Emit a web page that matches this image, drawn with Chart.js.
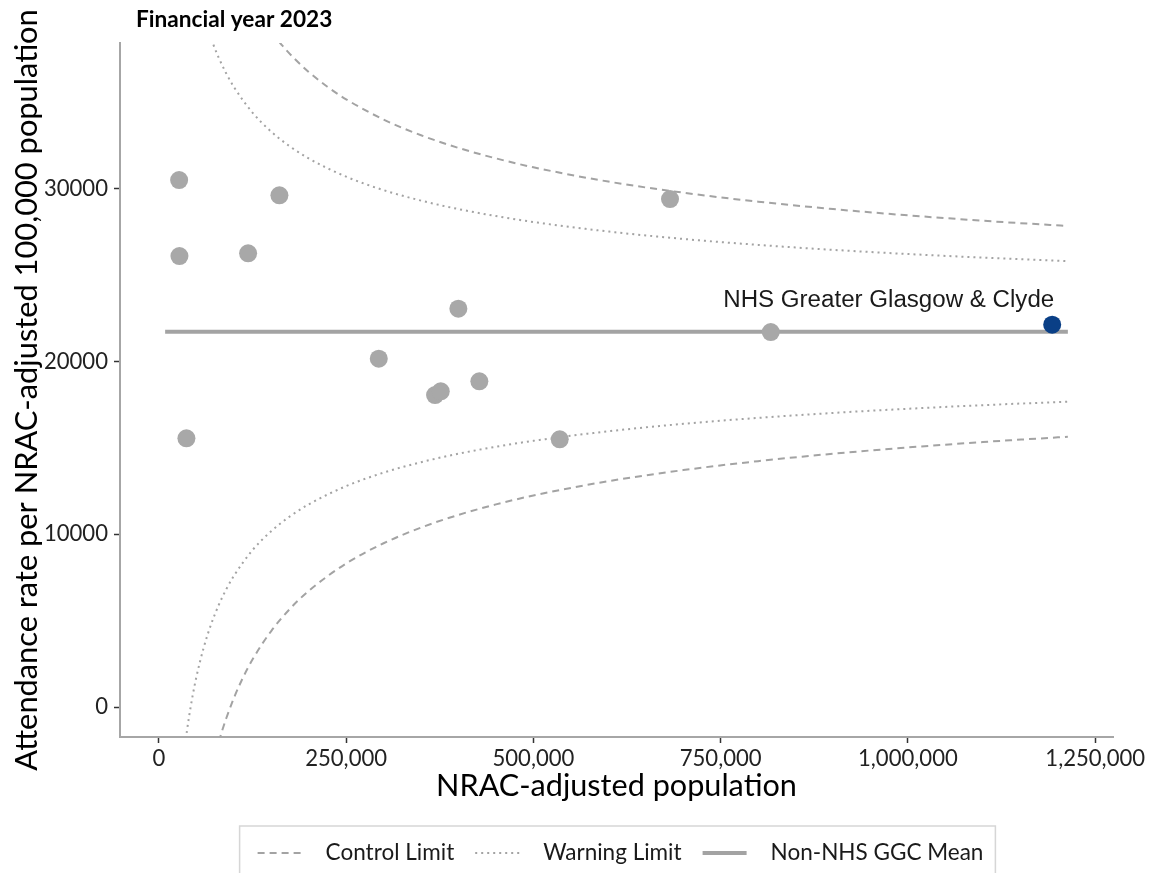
<!DOCTYPE html>
<html><head><meta charset="utf-8">
<script src="https://cdn.jsdelivr.net/npm/chart.js@4.4.0/dist/chart.umd.min.js"></script>
<style>html,body{margin:0;padding:0;background:#fff;overflow:hidden}#wrap{width:1153px;height:873px;position:relative}</style>
</head><body><div id="wrap"><canvas id="c" width="1153" height="873"></canvas></div>
<script>
// ---- text ----
const titleText = 'Financial year 2023';
const xAxisTitle = 'NRAC-adjusted population';
const yAxisTitle = 'Attendance rate per NRAC-adjusted 100,000 population';
const legendLabels = ['Control Limit', 'Warning Limit', 'Non-NHS GGC Mean'];
const ggcLabel = 'NHS Greater Glasgow & Clyde';

// ---- ticks ----
const xTicks = [0, 250000, 500000, 750000, 1000000, 1250000];
const yTicks = [0, 10000, 20000, 30000];

// ---- boards (grey points) ----
const boardPop  = [27090, 27490, 36830, 119180, 160950, 293600, 368740, 376350, 399840, 427870, 535170, 682400, 816900];
const boardRate = [30515, 26115, 15559, 26271, 29629, 20168, 18066, 18280, 23063, 18859, 15501, 29415, 21714];

// ---- NHS GGC (highlighted) ----
const ggcPop  = [1192580];
const ggcRate = [22137];

// ---- Non-NHS GGC mean ----
const meanPop  = [8400, 1213500];
const meanRate = [21731, 21731];

// ---- control limits ----
const ctrlUpperPop  = [160000, 165000, 170000, 180000, 200000, 225000, 250000, 300000, 350000, 400000, 450000, 500000, 600000, 700000, 800000, 900000, 1000000, 1100000, 1213500];
const ctrlUpperRate = [38550, 38294, 38049, 37588, 36777, 35918, 35190, 34019, 33109, 32375, 31768, 31253, 30425, 29782, 29263, 28833, 28470, 28157, 27851];
const ctrlLowerPop  = [80000, 85000, 90000, 100000, 110000, 125000, 150000, 175000, 200000, 250000, 300000, 350000, 400000, 450000, 500000, 600000, 700000, 800000, 900000, 1000000, 1100000, 1213500];
const ctrlLowerRate = [-2012, -1303, -650, 498, 1491, 2745, 4399, 5685, 6723, 8310, 9481, 10391, 11125, 11732, 12247, 13075, 13718, 14237, 14667, 15030, 15343, 15650];

// ---- warning limits ----
const warnUpperPop  = [70000, 75000, 80000, 90000, 100000, 125000, 150000, 175000, 200000, 250000, 300000, 350000, 400000, 450000, 500000, 600000, 700000, 800000, 900000, 1000000, 1100000, 1213500];
const warnUpperRate = [38681, 38107, 37592, 36683, 35918, 34420, 33317, 32460, 31768, 30710, 29930, 29323, 28833, 28429, 28086, 27534, 27104, 26759, 26472, 26230, 26022, 25817];
const warnLowerPop  = [35000, 37500, 40000, 45000, 50000, 60000, 70000, 80000, 90000, 100000, 125000, 150000, 175000, 200000, 250000, 300000, 350000, 400000, 450000, 500000, 600000, 700000, 800000, 900000, 1000000, 1100000, 1213500];
const warnLowerRate = [-2195, -1390, -650, 628, 1714, 3457, 4819, 5908, 6817, 7582, 9080, 10183, 11040, 11732, 12790, 13570, 14177, 14667, 15071, 15414, 15966, 16396, 16741, 17028, 17270, 17478, 17683];

// ---- axis ranges ----
const xMin = -51855, xMax = 1273755;
const yMin = -1737, yMax = 38450;

// ---- helpers ----
const zip = (xs, ys) => xs.map((x, i) => ({x: x, y: ys[i]}));
const mctx = document.createElement('canvas').getContext('2d');
function fitSize(text, font, target) {
  mctx.font = '100px ' + font;
  return 100 * target / mctx.measureText(text).width;
}
const SANS = 'Lato, "Open Sans", sans-serif';
const tickSize = fitSize('250,000', SANS, 82);
const yTitleSize = fitSize(yAxisTitle, SANS, 762);
const xTitleSize = fitSize(xAxisTitle, SANS, 361);
const titleSize = fitSize(titleText, 'bold ' + SANS, 202);
const legendSize = fitSize('Non-NHS GGC Mean', SANS, 213);
const annotSize = fitSize(ggcLabel, '"Liberation Sans", Arial, sans-serif', 331);

const LINE_GREY = '#a3a3a3';
const POINT_GREY = '#a8a8a8';
const GGC_BLUE = '#0a3f86';

const titleShiftPlugin = {
  id: 'titleShift',
  afterLayout(chart) {
    if (chart.titleBlock) chart.titleBlock.left = chart.chartArea.left + 16;
  }
};

const ggcLabelPlugin = {
  id: 'ggcLabel',
  afterDatasetsDraw(chart) {
    const pt = chart.getDatasetMeta(1).data[0];
    if (!pt) return;
    const ctx = chart.ctx;
    ctx.save();
    ctx.font = annotSize + 'px "Liberation Sans", Arial, sans-serif';
    ctx.fillStyle = '#1a1a1a';
    ctx.textAlign = 'right';
    ctx.textBaseline = 'alphabetic';
    ctx.fillText(ggcLabel, pt.x + 2, pt.y - 18);
    ctx.restore();
  }
};

const boxLegendPlugin = {
  id: 'boxLegend',
  afterDraw(chart) {
    const ctx = chart.ctx;
    const items = chart.data.datasets.filter(d => d.inLegend);
    ctx.save();
    ctx.font = legendSize + 'px ' + SANS;
    const sample = 44, gapText = 24, gapItem = 21;
    const widths = items.map(d => sample + gapText + ctx.measureText(d.label).width);
    const total = widths.reduce((a, b) => a + b, 0) + gapItem * (items.length - 1);
    const cx = (chart.chartArea.left + chart.chartArea.right) / 2 + 4;
    let x = cx - total / 2;
    const top = chart.height - 47;
    const y = chart.height - 20;
    ctx.strokeStyle = '#d6d6d6';
    ctx.lineWidth = 1.5;
    ctx.strokeRect(x - 18, top, total + 30, 80);
    items.forEach((d, k) => {
      ctx.beginPath();
      ctx.setLineDash(d.borderDash || []);
      ctx.lineWidth = d.borderWidth;
      ctx.strokeStyle = d.borderColor;
      ctx.moveTo(x, y);
      ctx.lineTo(x + sample, y);
      ctx.stroke();
      ctx.setLineDash([]);
      ctx.fillStyle = '#1a1a1a';
      ctx.textBaseline = 'middle';
      ctx.textAlign = 'left';
      ctx.fillText(d.label, x + sample + gapText, y);
      x += widths[k] + gapItem;
    });
    ctx.restore();
  }
};

const lineBase = {showLine: true, pointRadius: 0, pointHoverRadius: 0, fill: false, cubicInterpolationMode: 'monotone', order: 2};

new Chart(document.getElementById('c'), {
  type: 'scatter',
  data: {
    datasets: [
      {label: 'Boards', data: zip(boardPop, boardRate), backgroundColor: POINT_GREY, borderWidth: 0, pointRadius: 9, pointHoverRadius: 9, order: 0},
      {label: ggcLabel, data: zip(ggcPop, ggcRate), backgroundColor: GGC_BLUE, borderWidth: 0, pointRadius: 9, pointHoverRadius: 9, order: 0},
      Object.assign({label: legendLabels[0], inLegend: true, data: zip(ctrlUpperPop, ctrlUpperRate), borderColor: LINE_GREY, borderWidth: 2, borderDash: [7, 5]}, lineBase),
      Object.assign({label: legendLabels[0], data: zip(ctrlLowerPop, ctrlLowerRate), borderColor: LINE_GREY, borderWidth: 2, borderDash: [7, 5]}, lineBase),
      Object.assign({label: legendLabels[1], inLegend: true, data: zip(warnUpperPop, warnUpperRate), borderColor: LINE_GREY, borderWidth: 2, borderDash: [2, 4]}, lineBase),
      Object.assign({label: legendLabels[1], data: zip(warnLowerPop, warnLowerRate), borderColor: LINE_GREY, borderWidth: 2, borderDash: [2, 4]}, lineBase),
      Object.assign({label: legendLabels[2], inLegend: true, data: zip(meanPop, meanRate), borderColor: LINE_GREY, borderWidth: 4}, lineBase, {order: 1})
    ]
  },
  options: {
    responsive: false,
    animation: false,
    devicePixelRatio: 1,
    layout: {padding: {top: 0, right: 40, bottom: 58, left: 0}},
    plugins: {
      legend: {display: false},
      tooltip: {enabled: false},
      title: {
        display: true, text: titleText, align: 'start', fullSize: false, color: '#000',
        font: {family: SANS, weight: 'bold', size: titleSize, lineHeight: 1.2},
        padding: {top: 19.5 - 0.6 * titleSize, bottom: 43 - (19.5 - 0.6 * titleSize) - 1.2 * titleSize}
      }
    },
    scales: {
      x: {
        type: 'linear', min: xMin, max: xMax,
        afterFit(s) { s.height = 78; },
        afterBuildTicks(s) { s.ticks = xTicks.map(v => ({value: v})); },
        ticks: {color: '#222', font: {family: SANS, size: tickSize}, padding: 3, maxRotation: 0,
          callback: v => Number(v).toLocaleString('en-US')},
        grid: {display: true, drawOnChartArea: false, drawTicks: true, tickLength: 6, tickColor: '#333', tickWidth: 1.5},
        border: {display: true, color: '#a6a6a6', width: 2},
        title: {display: true, text: xAxisTitle, color: '#000', font: {family: SANS, size: xTitleSize, lineHeight: 1.2},
          padding: {top: 0, bottom: 29 - 0.6 * xTitleSize}}
      },
      y: {
        type: 'linear', min: yMin, max: yMax,
        afterFit(s) { s.width = 120; },
        afterBuildTicks(s) { s.ticks = yTicks.map(v => ({value: v})); },
        ticks: {color: '#222', font: {family: SANS, size: tickSize}, padding: 6, callback: v => String(v)},
        grid: {display: true, drawOnChartArea: false, drawTicks: true, tickLength: 6, tickColor: '#333', tickWidth: 1.5},
        border: {display: true, color: '#a6a6a6', width: 2},
        title: {display: true, text: yAxisTitle, color: '#000', font: {family: SANS, size: yTitleSize, lineHeight: 1.2},
          padding: {top: 27 - 0.6 * yTitleSize, bottom: 0}}
      }
    }
  },
  plugins: [titleShiftPlugin, ggcLabelPlugin, boxLegendPlugin]
});
</script>
</body></html>
